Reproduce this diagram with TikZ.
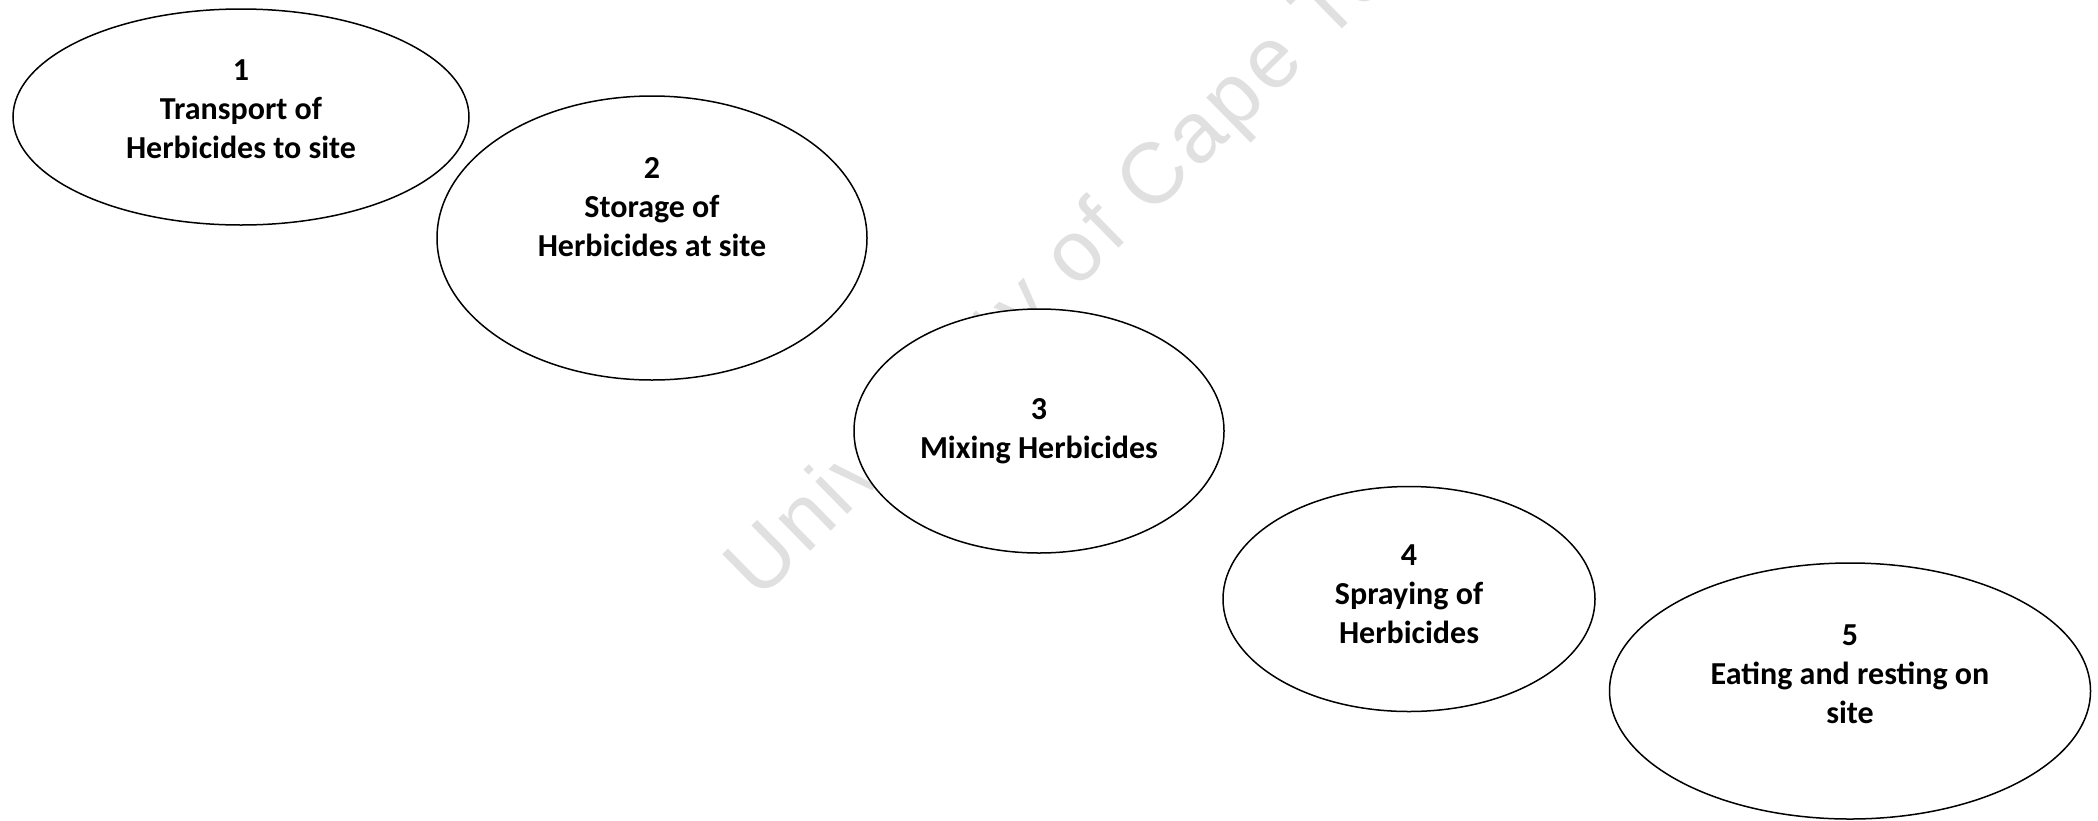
\documentclass[tikz,border=0pt]{standalone}
\usepackage{fontspec}
\setmainfont{Carlito}
\newfontfamily\wmfont[LetterSpace=5]{Liberation Sans}
\usetikzlibrary{shapes.geometric}
\begin{document}
\begin{tikzpicture}[x=1pt,y=-1pt,
  stage/.style={ellipse,draw=black,line width=1.5pt,fill=white,inner sep=0pt},
  stagetext/.style={align=center,font=\fontsize{32}{39}\selectfont\bfseries,text=black},
  watermark/.style={font=\wmfont\fontsize{86}{96}\selectfont,text=black!12,rotate=44.5,anchor=base west,inner sep=0pt}]
\useasboundingbox (0,0) rectangle (2098,820);
\fill[white] (0,0) rectangle (2098,820);
\node[watermark] (wm) at (759,602) {University of Cape Town};
\node[stage,minimum width=456pt,minimum height=216pt] (e1) at (241,117) {};
\node[stage,minimum width=430pt,minimum height=284pt] (e2) at (652,238) {};
\node[stage,minimum width=370pt,minimum height=244pt] (e3) at (1039,431) {};
\node[stage,minimum width=372pt,minimum height=225pt] (e4) at (1409,599) {};
\node[stage,minimum width=481pt,minimum height=256pt] (e5) at (1850,691) {};
\node[stagetext] (t1) at ([yshift=8pt]e1.center) {1\\Transport of\\Herbicides to site};
\node[stagetext] (t2) at ([yshift=31pt]e2.center) {2\\Storage of\\Herbicides at site};
\node[stagetext] (t3) at ([yshift=0pt]e3.center) {3\\Mixing Herbicides};
\node[stagetext] (t4) at ([yshift=5pt]e4.center) {4\\Spraying of\\Herbicides};
\node[stagetext] (t5) at ([yshift=17pt]e5.center) {5\\Eating and resting on\\site};
\end{tikzpicture}
\end{document}
